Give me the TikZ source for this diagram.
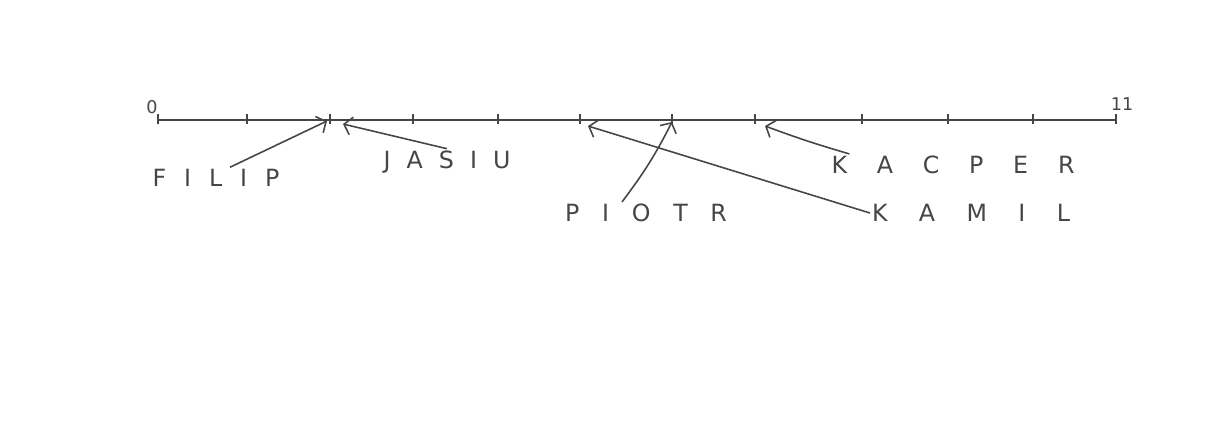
\documentclass[tikz,border=0pt]{standalone}
\usepackage{fontspec}
\setmainfont{DejaVu Sans}
\usetikzlibrary{arrows.meta,positioning,calc}
\definecolor{pc}{RGB}{70,70,70}
\tikzset{lbl/.style={text=pc,inner sep=1pt,font=\fontsize{13.5}{15}\selectfont},
 num/.style={text=pc,inner sep=0pt,font=\fontsize{10}{11}\selectfont},
 ln/.style={draw=pc,line width=.6pt},tk/.style={draw=pc,line width=1.4pt},
 arr/.style={draw=pc,-{Straight Barb[length=1.5mm,width=3.6mm]},line width=.9pt}}
\newcommand\spc[2]{\makebox[#1][s]{#2}}

\begin{document}
\begin{tikzpicture}[x=.02cm,y=-.02cm]
\useasboundingbox (0,0) rectangle (1206,432);
\foreach \x [count=\i from 0] in {158,247,330,413,498,580,672,755,862,948,1033,1116}
 {\coordinate (t\i) at (\x,120);\draw[tk] (\x,114)--(\x,124);}
\draw[ln] (t0)--(t11);
\node[num] (n0) at (152,107) {0};\node[num] (n11) at (1122,104) {11};
\node[lbl] (filip) at (216,178) {\spc{2.54cm}{F I L I P}};
\node[lbl] (jasiu) at (447,162) {\spc{2.54cm}{J A S I U}};
\node[lbl] (piotr) at (646,213) {\spc{3.24cm}{P I O T R}};
\node[lbl] (kamil) at (971,213) {\spc{3.96cm}{K A M I L}};
\node[lbl] (kacper) at (953,165) {\spc{4.86cm}{K A C P E R}};
\draw[arr] ([xshift=.28cm]filip.north) -- ([xshift=-.06cm,yshift=-.02cm]t2);
\draw[arr] (jasiu.north) -- ([xshift=.26cm,yshift=-.08cm]t2);
\draw[arr] ([xshift=-.48cm]piotr.north) to[bend right=5] ([yshift=-.04cm]t6);
\draw[arr] (kamil.west) -- ([xshift=.16cm,yshift=-.12cm]t5);
\draw[arr] ([xshift=.4cm]kacper.north west) to[bend left=2] ([xshift=.2cm,yshift=-.12cm]t7);
\end{tikzpicture}
\end{document}
